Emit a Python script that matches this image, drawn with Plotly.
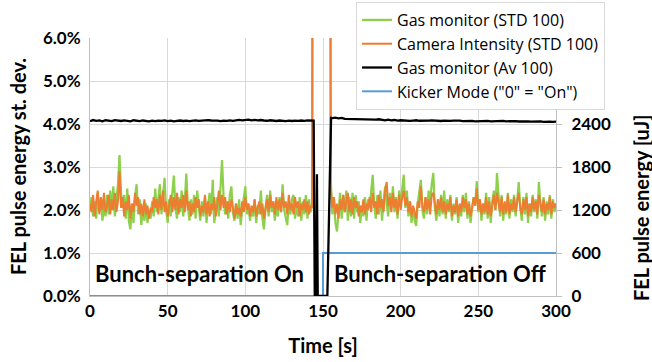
import plotly.graph_objects as go

# ---------------- data ----------------
time_s = list(range(0, 301))

gas_std = [
    2.05, 2.30, 1.85, 2.20, 1.80, 2.40, 1.95, 2.25, 1.75, 2.10,
    1.85, 2.35, 1.90, 2.45, 2.00, 2.55, 1.85, 2.30, 2.60, 3.28,
    2.40, 2.05, 2.35, 1.80, 2.50, 1.75, 1.55, 2.10, 1.70, 2.30,
    2.60, 1.90, 2.25, 1.65, 2.05, 1.75, 2.15, 1.70, 1.95, 1.80,
    2.20, 1.85, 2.50, 1.95, 2.35, 2.60, 1.90, 2.30, 2.75, 2.00,
    1.70, 2.25, 1.85, 2.40, 2.80, 2.05, 1.80, 2.30, 1.95, 2.45,
    1.85, 2.20, 2.85, 2.10, 1.75, 2.25, 1.90, 2.35, 1.80, 2.45,
    2.00, 1.75, 2.20, 1.85, 2.30, 1.70, 2.10, 2.40, 1.90, 2.70,
    1.70, 2.05, 2.30, 1.85, 2.45, 3.16, 2.30, 1.90, 2.20, 1.80,
    2.35, 2.55, 1.95, 1.75, 2.15, 1.80, 2.25, 1.65, 2.00, 2.30,
    2.55, 1.90, 2.15, 1.75, 2.05, 1.85, 2.25, 1.70, 2.10, 1.90,
    2.45, 1.80, 1.55, 2.05, 2.35, 1.85, 2.45, 1.95, 2.20, 1.75,
    2.10, 1.85, 2.30, 1.95, 2.60, 2.00, 1.80, 1.65, 2.15, 1.90,
    2.25, 2.35, 1.80, 2.10, 1.85, 2.30, 1.75, 2.20, 1.90, 2.35,
    1.80, 2.25, 1.95, 2.10,
    25.0, 25.0, 25.0, 25.0, 25.0, 25.0, 25.0, 25.0, 25.0, 25.0, 25.0,
    2.70, 1.90, 2.30, 1.70, 1.50, 2.05, 2.40, 1.80, 2.35, 1.95,
    2.45, 1.75, 2.30, 1.85, 2.40, 1.80, 2.35, 1.95, 2.20, 1.70,
    2.10, 1.85, 2.30, 1.75, 2.25, 2.05, 2.50, 2.82, 2.10, 1.80,
    2.35, 1.90, 2.45, 1.75, 2.20, 2.55, 2.15, 1.85, 2.40, 2.05,
    2.55, 1.95, 2.30, 1.80, 2.45, 2.10, 2.50, 2.82, 2.05, 2.45,
    1.85, 2.20, 1.70, 2.05, 1.75, 1.63, 2.15, 2.40, 2.70, 2.00,
    1.80, 2.30, 1.90, 2.45, 2.15, 2.60, 2.86, 2.05, 1.75, 2.25,
    1.85, 2.35, 1.90, 2.45, 1.80, 2.25, 1.95, 2.35, 1.75, 2.15,
    1.90, 2.30, 1.70, 2.10, 1.85, 2.35, 1.95, 2.40, 1.80, 2.20,
    1.70, 2.05, 2.30, 2.10, 2.67, 1.95, 2.25, 1.75, 2.15, 1.90,
    2.40, 1.80, 2.30, 1.70, 2.20, 2.45, 2.00, 2.86, 2.20, 1.85,
    2.35, 1.75, 2.15, 1.90, 2.40, 1.80, 2.25, 1.95, 2.35, 1.85,
    2.20, 2.65, 2.05, 1.75, 2.30, 1.90, 2.40, 1.70, 2.15, 1.85,
    2.35, 1.95, 2.25, 1.80, 2.65, 2.10, 1.85, 2.30, 1.75, 2.20,
    1.90, 2.35, 1.80, 2.25, 1.95, 2.15,
]

camera_std = [
    2.15, 1.95, 2.35, 1.85, 2.20, 2.45, 1.90, 2.30, 2.00, 2.40,
    1.95, 2.10, 2.35, 1.90, 2.25, 2.00, 2.40, 1.95, 2.20, 2.90,
    2.05, 2.30, 1.85, 2.20, 2.00, 2.35, 1.80, 2.15, 1.95, 2.40,
    2.10, 2.30, 1.90, 2.15, 1.85, 2.25, 1.90, 2.10, 1.80, 2.05,
    1.95, 2.30, 2.05, 2.25, 1.90, 2.35, 2.00, 2.45, 1.95, 2.20,
    1.85, 2.10, 2.35, 1.95, 2.30, 2.00, 2.40, 1.90, 2.25, 2.05,
    2.35, 1.95, 2.45, 2.00, 2.20, 1.85, 2.15, 1.95, 2.30, 2.05,
    2.25, 1.85, 2.10, 1.95, 2.35, 1.90, 2.20, 1.85, 2.15, 2.00,
    2.30, 1.85, 2.10, 2.45, 2.00, 2.35, 2.05, 2.30, 1.90, 2.20,
    1.95, 2.25, 2.05, 1.80, 2.15, 1.90, 2.05, 1.85, 2.20, 1.95,
    2.30, 2.00, 2.15, 1.85, 2.10, 1.95, 2.25, 1.85, 2.05, 2.20,
    1.90, 2.15, 1.80, 2.05, 2.25, 1.95, 2.35, 2.05, 2.20, 1.90,
    2.30, 2.00, 2.25, 1.95, 2.40, 2.05, 2.20, 1.90, 2.35, 2.00,
    2.15, 1.90, 2.30, 2.05, 2.20, 1.85, 2.15, 2.00, 2.25, 1.95,
    2.20, 1.90, 2.10, 2.05,
    26.0, 26.0, 26.0, 26.0, 26.0, 26.0, 26.0, 26.0, 26.0, 26.0, 26.0,
    2.50, 2.05, 2.30, 1.90, 2.15, 1.80, 2.25, 2.00, 2.35, 1.95,
    2.20, 2.40, 1.95, 2.25, 1.90, 2.30, 2.05, 2.20, 1.85, 2.10,
    1.95, 2.25, 1.90, 2.15, 2.00, 2.30, 1.95, 2.40, 2.05, 2.20,
    1.90, 2.35, 2.05, 2.25, 1.95, 2.45, 2.65, 2.10, 2.30, 1.95,
    2.40, 2.05, 2.25, 1.90, 2.35, 2.00, 2.30, 2.45, 2.10, 2.30,
    1.95, 2.20, 1.85, 2.10, 1.95, 1.80, 2.20, 2.05, 2.55, 2.10,
    1.95, 2.30, 2.00, 2.25, 1.90, 2.35, 2.40, 2.10, 1.90, 2.25,
    2.00, 2.30, 1.95, 2.20, 1.90, 2.15, 2.00, 2.30, 1.85, 2.10,
    1.95, 2.25, 1.85, 2.15, 1.95, 2.30, 2.05, 2.25, 1.90, 2.15,
    1.85, 2.05, 2.30, 2.10, 2.50, 2.00, 2.25, 1.90, 2.15, 1.95,
    2.30, 1.90, 2.20, 1.85, 2.10, 2.35, 2.00, 2.40, 2.15, 1.95,
    2.30, 1.90, 2.20, 1.95, 2.35, 1.90, 2.15, 2.00, 2.30, 1.95,
    2.20, 2.40, 2.05, 1.90, 2.25, 2.00, 2.30, 1.85, 2.15, 1.95,
    2.30, 2.00, 2.20, 1.90, 2.35, 2.10, 1.95, 2.25, 1.90, 2.15,
    2.00, 2.30, 1.90, 2.20, 2.05, 2.15,
]

gas_av_time = [
    0, 2, 4, 6, 8, 10, 12, 14, 16, 18, 20, 22, 24, 26, 28, 30, 32, 34, 36, 38,
    40, 42, 44, 46, 48, 50, 52, 54, 56, 58, 60, 62, 64, 66, 68, 70, 72, 74, 76, 78,
    80, 82, 84, 86, 88, 90, 92, 94, 96, 98, 100, 102, 104, 106, 108, 110, 112, 114,
    116, 118, 120, 122, 124, 126, 128, 130, 132, 134, 136, 138, 140, 142, 144,
    144.7, 145.6, 146.1, 146.6, 152.8, 155.2,
    156, 158, 160, 162, 164, 166, 168, 170, 172, 174, 176, 178, 180, 182, 184, 186,
    188, 190, 192, 194, 196, 198, 200, 202, 204, 206, 208, 210, 212, 214, 216, 218,
    220, 222, 224, 226, 228, 230, 232, 234, 236, 238, 240, 242, 244, 246, 248, 250,
    252, 254, 256, 258, 260, 262, 264, 266, 268, 270, 272, 274, 276, 278, 280, 282,
    284, 286, 288, 290, 292, 294, 296, 298, 300,
]
gas_av = [
    2440, 2455, 2445, 2450, 2438, 2452, 2446, 2440, 2455, 2448, 2442, 2450, 2445, 2438, 2452, 2447, 2441, 2449, 2444, 2437,
    2446, 2440, 2448, 2443, 2450, 2441, 2446, 2438, 2444, 2449, 2442, 2447, 2440, 2445, 2451, 2443, 2448, 2446, 2455, 2449,
    2452, 2447, 2441, 2448, 2444, 2450, 2445, 2452, 2458, 2450, 2455, 2460, 2452, 2458, 2450, 2456, 2449, 2445,
    2452, 2447, 2442, 2449, 2444, 2440, 2447, 2442, 2448, 2443, 2449, 2444, 2450, 2446, 2448,
    0, 0, 1700, 0, 0, 2485,
    2482, 2488, 2478, 2484, 2472, 2470, 2468, 2472, 2466, 2462, 2468, 2460, 2464, 2458, 2462, 2466,
    2456, 2452, 2460, 2450, 2456, 2448, 2452, 2446, 2450, 2444, 2448, 2452, 2445, 2449, 2443, 2447,
    2450, 2444, 2448, 2442, 2446, 2440, 2444, 2448, 2442, 2446, 2441, 2445, 2440, 2443, 2438, 2442,
    2446, 2440, 2444, 2438, 2442, 2436, 2440, 2444, 2438, 2442, 2436, 2440, 2435, 2439, 2434, 2438,
    2433, 2437, 2432, 2436, 2431, 2435, 2433, 2430, 2434,
]

kicker_time = [0, 150, 150, 300]
kicker_mode = [0, 0, 1, 1]

x_ticks = [0, 50, 100, 150, 200, 250, 300]
y_ticks = [0, 1, 2, 3, 4, 5, 6]
y_tick_labels = ["0.0%", "1.0%", "2.0%", "3.0%", "4.0%", "5.0%", "6.0%"]
y2_ticks = [0, 600, 1200, 1800, 2400]

region_labels = ["Bunch-separation On", "Bunch-separation Off"]
region_x = [70.5, 225.5]
region_y = [0.52, 0.52]

# ---------------- styling ----------------
FONT = "Lato"
GREEN = "#8DD04A"
ORANGE = "#ED7D31"
BLUE = "#5B9BD5"
GRID = "#D9D9D9"
AXIS = "#BFBFBF"
BOLD = dict(family=FONT, size=17, color="black", weight="bold")

fig = go.Figure()
fig.add_trace(go.Scatter(x=time_s, y=gas_std, mode="lines", name="Gas monitor (STD 100)",
                         line=dict(color=GREEN, width=2.2)))
fig.add_trace(go.Scatter(x=time_s, y=camera_std, mode="lines", name="Camera Intensity (STD 100)",
                         line=dict(color=ORANGE, width=2.0)))
fig.add_trace(go.Scatter(x=gas_av_time, y=gas_av, mode="lines", name="Gas monitor (Av 100)",
                         yaxis="y2", line=dict(color="black", width=2.3)))
fig.add_trace(go.Scatter(x=kicker_time, y=kicker_mode, mode="lines", name='Kicker Mode ("0" = "On")',
                         line=dict(color=BLUE, width=2.0)))

for txt, xx, yy in zip(region_labels, region_x, region_y):
    fig.add_annotation(x=xx, y=yy, xref="x", yref="y", text="<b>%s</b>" % txt, showarrow=False,
                       font=dict(family=FONT, size=22, color="black"), xanchor="center", yanchor="middle")

pw = 652 - 90 - 96
ph = 362 - 38 - 66
fig.add_annotation(x=(18 - 90) / pw, y=(296 - 167) / ph, xref="paper", yref="paper",
                   text="<b>FEL pulse energy st. dev.</b>", showarrow=False, textangle=-90,
                   xanchor="center", yanchor="middle",
                   font=dict(family=FONT, size=20, color="black"))
fig.add_annotation(x=(641 - 90) / pw, y=(296 - 208) / ph, xref="paper", yref="paper",
                   text="<b>FEL pulse energy [uJ]</b>", showarrow=False, textangle=-90,
                   xanchor="center", yanchor="middle",
                   font=dict(family=FONT, size=20, color="black"))

fig.update_layout(
    width=652, height=362,
    margin=dict(l=90, r=96, t=38, b=66, autoexpand=False),
    paper_bgcolor="white", plot_bgcolor="white",
    font=dict(family=FONT, size=17, color="black"),
    showlegend=True,
    legend=dict(x=(356 - 90) / pw, y=(296 - 2) / ph, xanchor="left", yanchor="top", bgcolor="white",
                bordercolor=GRID, borderwidth=1, font=dict(family="Open Sans", size=16, color="black"),
                tracegroupgap=0, itemwidth=30),
    xaxis=dict(range=[0, 300], tickvals=x_ticks, showgrid=True, gridcolor=GRID, gridwidth=1,
               showline=True, linecolor=AXIS, linewidth=1, zeroline=False, ticks="",
               tickfont=BOLD,
               title=dict(text="<b>Time [s]</b>", font=dict(family=FONT, size=20, color="black"), standoff=18)),
    yaxis=dict(range=[0, 6], tickvals=y_ticks, ticktext=y_tick_labels, showgrid=True,
               gridcolor=GRID, gridwidth=1, showline=True, linecolor=AXIS, linewidth=1, zeroline=False,
               ticks="", tickfont=BOLD, ticklabelstandoff=5),
    yaxis2=dict(range=[0, 3600], tickvals=y2_ticks, overlaying="y", side="right", showgrid=False,
                showline=True, linecolor=AXIS, linewidth=1, zeroline=False, ticks="outside",
                ticklen=5, tickcolor=AXIS, tickfont=BOLD, ticklabelstandoff=6),
)

fig.write_html("out.html")
